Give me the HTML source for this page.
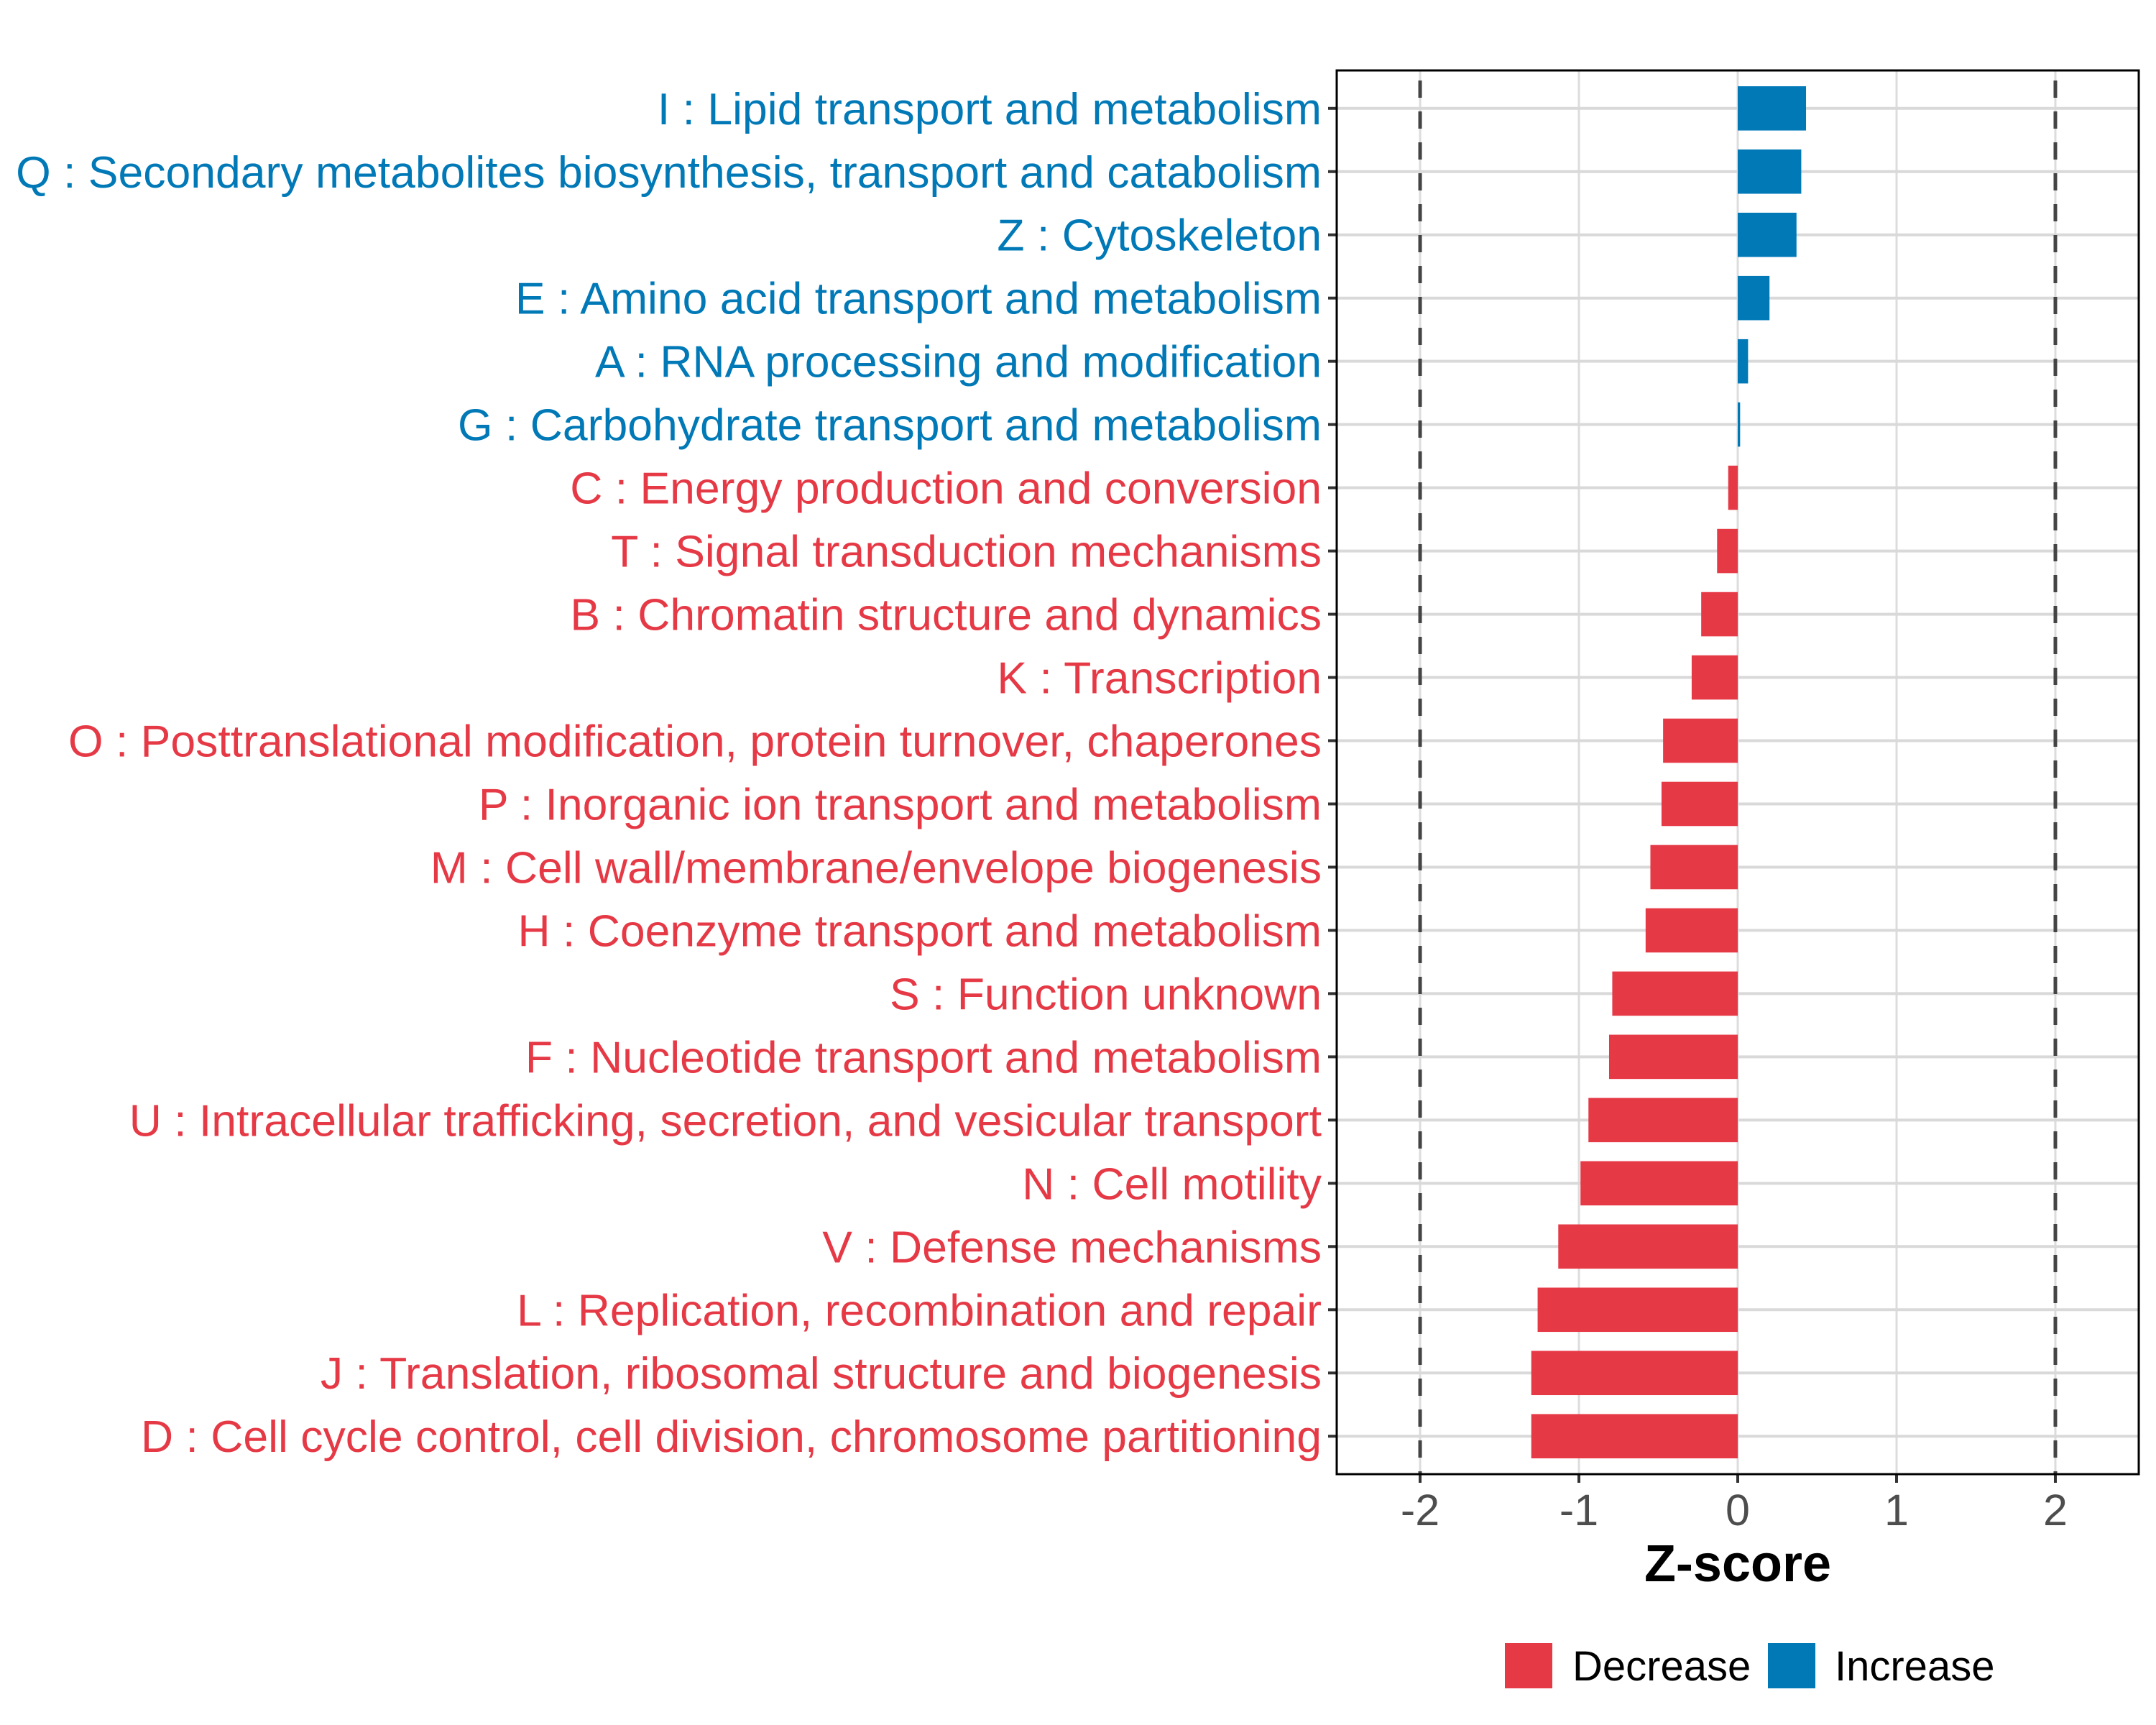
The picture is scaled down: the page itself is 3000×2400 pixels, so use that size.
<!DOCTYPE html>
<html><head><meta charset="utf-8"><style>
html,body{margin:0;padding:0;background:#fff}
svg{display:block}
text{font-family:"Liberation Sans",Arial,sans-serif}
</style></head><body>
<svg id="chart" width="3000" height="2400" viewBox="0 0 3000 2400" xmlns="http://www.w3.org/2000/svg">
<rect width="3000" height="2400" fill="#fff"/>
<g id="grid"></g>
<g id="bars"></g>
<g id="refs"></g>
<g id="yaxis"></g>
<g id="xaxis"></g>
<rect x="1860" y="98" width="1116" height="1953" fill="none" stroke="#000" stroke-width="3"/>
<text x="2418" y="2200" font-size="72" font-weight="bold" text-anchor="middle" fill="#000">Z-score</text>
<g>
<rect x="2094" y="2286" width="66" height="63" fill="#e63946"/>
<text x="2188" y="2338" font-size="58" fill="#000">Decrease</text>
<rect x="2460" y="2286" width="66" height="63" fill="#0179b7"/>
<text x="2553" y="2338" font-size="58" fill="#000">Increase</text>
</g>
</svg>
<script>
const categories = [
"I : Lipid transport and metabolism",
"Q : Secondary metabolites biosynthesis, transport and catabolism",
"Z : Cytoskeleton",
"E : Amino acid transport and metabolism",
"A : RNA processing and modification",
"G : Carbohydrate transport and metabolism",
"C : Energy production and conversion",
"T : Signal transduction mechanisms",
"B : Chromatin structure and dynamics",
"K : Transcription",
"O : Posttranslational modification, protein turnover, chaperones",
"P : Inorganic ion transport and metabolism",
"M : Cell wall/membrane/envelope biogenesis",
"H : Coenzyme transport and metabolism",
"S : Function unknown",
"F : Nucleotide transport and metabolism",
"U : Intracellular trafficking, secretion, and vesicular transport",
"N : Cell motility",
"V : Defense mechanisms",
"L : Replication, recombination and repair",
"J : Translation, ribosomal structure and biogenesis",
"D : Cell cycle control, cell division, chromosome partitioning"];
const zscores = [0.43,0.40,0.37,0.20,0.065,0.015,-0.06,-0.13,-0.23,-0.29,-0.47,-0.48,-0.55,-0.58,-0.79,-0.81,-0.94,-0.99,-1.13,-1.26,-1.30,-1.30];
const xTicks = [-2,-1,0,1,2];
const xTickLabels = ["-2","-1","0","1","2"];
const refLines = [-2,2];

const NS="http://www.w3.org/2000/svg";
const X0=1860, X1=2976, Y0=98, Y1=2051;
const xMin=-2.525, xMax=2.525;
const xs=v=>X0+(v-xMin)/(xMax-xMin)*(X1-X0);
const rowStep=(Y1-Y0)/(categories.length+0.2);
const ys=i=>Y0+rowStep*0.6+i*rowStep;
const RED="#e63946", BLUE="#0179b7";
function mk(tag,attrs,parent){const e=document.createElementNS(NS,tag);for(const k in attrs)e.setAttribute(k,attrs[k]);parent.appendChild(e);return e;}
const grid=document.getElementById('grid'),bars=document.getElementById('bars'),refs=document.getElementById('refs'),yax=document.getElementById('yaxis'),xax=document.getElementById('xaxis');

xTicks.forEach(t=>{
  const l=mk('line',{x1:xs(t),x2:xs(t),y1:Y0,y2:Y1,stroke:'#dcdcdc','stroke-width':3},grid);
  
  
});
categories.forEach((c,i)=>{
  const l=mk('line',{x1:X0,x2:X1,y1:ys(i),y2:ys(i),stroke:'#d9d9d9','stroke-width':4},grid);
  
  
});
const bh=rowStep*0.7;
zscores.forEach((v,i)=>{
  const a=xs(Math.min(0,v)),b=xs(Math.max(0,v));
  const r=mk('rect',{x:a,y:ys(i)-bh/2,width:Math.max(b-a,1),height:bh,fill:v>=0?BLUE:RED},bars);
  
  
});
refLines.forEach(v=>{
  const l=mk('line',{x1:xs(v),x2:xs(v),y1:Y0,y2:Y1,stroke:'#444','stroke-width':5,'stroke-dasharray':'24 19','stroke-dashoffset':'-14'},refs);
  
  
});
categories.forEach((c,i)=>{
  const tk=mk('line',{x1:X0-12,x2:X0,y1:ys(i),y2:ys(i),stroke:'#333','stroke-width':4},yax);
  
  
  const t=mk('text',{x:X0-21,y:ys(i)+22,'font-size':62.5,'text-anchor':'end',fill:zscores[i]>=0?BLUE:RED},yax);
  t.textContent=c;
  
  
});
xTicks.forEach((v,i)=>{
  const tk=mk('line',{x1:xs(v),x2:xs(v),y1:Y1,y2:Y1+12,stroke:'#333','stroke-width':4},xax);
  
  
  const t=mk('text',{x:xs(v),y:2122,'font-size':61,'text-anchor':'middle',fill:'#4d4d4d'},xax);
  t.textContent=xTickLabels[i];
  
  
});
</script>
</body></html>
